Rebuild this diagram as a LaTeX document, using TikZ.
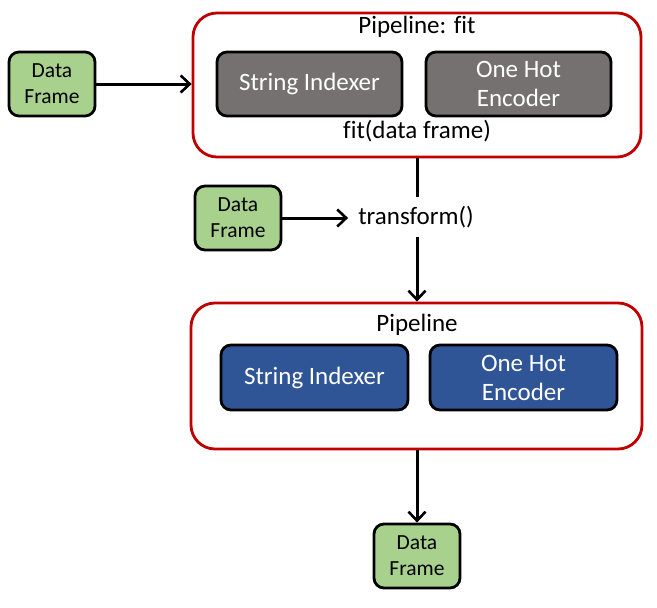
\documentclass[tikz,border=0pt]{standalone}
\usepackage{fontspec}
\setmainfont{Carlito}[Ligatures=NoCommon]
\usetikzlibrary{arrows.meta}
\definecolor{pred}{HTML}{C00000}
\definecolor{sgray}{HTML}{767171}
\definecolor{sblue}{HTML}{2F5597}
\definecolor{dgreen}{HTML}{A9D18E}
\tikzset{
  pipebox/.style={draw=pred, line width=2.8pt, rounded corners=24pt, fill=white},
  stagebox/.style={draw=black, line width=2.8pt, rounded corners=10pt, text=white,
    align=center, font=\fontsize{25}{29}\selectfont, inner sep=0pt},
  graybox/.style={stagebox, fill=sgray, minimum width=185pt, minimum height=64pt},
  bluebox/.style={stagebox, fill=sblue, minimum width=187pt, minimum height=65pt},
  dfbox/.style={draw=black, line width=2.8pt, rounded corners=10pt, fill=dgreen,
    align=center, font=\fontsize{21.5}{26}\selectfont, inner sep=0pt,
    minimum width=86pt, minimum height=64pt},
  lbl/.style={font=\fontsize{25}{29}\selectfont, inner sep=0pt},
  conn/.style={line width=3pt, draw=black},
  arr/.style={conn, -{Straight Barb[length=9pt,width=17pt,line width=2.6pt]}}
}
\begin{document}
\begin{tikzpicture}[x=1pt,y=-1pt]
\useasboundingbox (0,0) rectangle (657,608);
% top pipeline
\node[pipebox, minimum width=448pt, minimum height=144pt] (p1) at (417,85) {};
\node[lbl] (p1t) at (417,27) {Pipeline: fit};
\node[graybox] (si1) at (309.5,84) {String Indexer};
\node[graybox] (oh1) at (518.5,84) {One Hot\\Encoder};
\node[lbl] (fitl) at (417,131) {fit(data frame)};
% input data frame 1
\node[dfbox] (df1) at (52,84) {Data\\Frame};
\draw[arr] (df1.east) -- (p1.west |- df1.east);
% transform
\node[lbl, inner xsep=3pt, inner ysep=9pt] (tr) at (416,217) {transform()};
\node[dfbox] (df2) at (238,218) {Data\\Frame};
\draw[conn] (p1.south) -- (tr.north -| p1.south);
\draw[arr, shorten >=7pt] (df2.east) -- (tr.west |- df2.east);
% bottom pipeline
\node[pipebox, minimum width=451pt, minimum height=146pt] (p2) at (416.5,376) {};
\node[lbl] (p2t) at (417,325) {Pipeline};
\node[bluebox] (si2) at (314.5,377.5) {String Indexer};
\node[bluebox] (oh2) at (523.5,377.5) {One Hot\\Encoder};
\draw[arr] (tr.south -| p1.south) -- (p2.north -| p1.south);
% output data frame
\node[dfbox] (df3) at (417,556) {Data\\Frame};
\draw[arr] (p2.south -| df3.north) -- (df3.north);
\end{tikzpicture}
\end{document}
